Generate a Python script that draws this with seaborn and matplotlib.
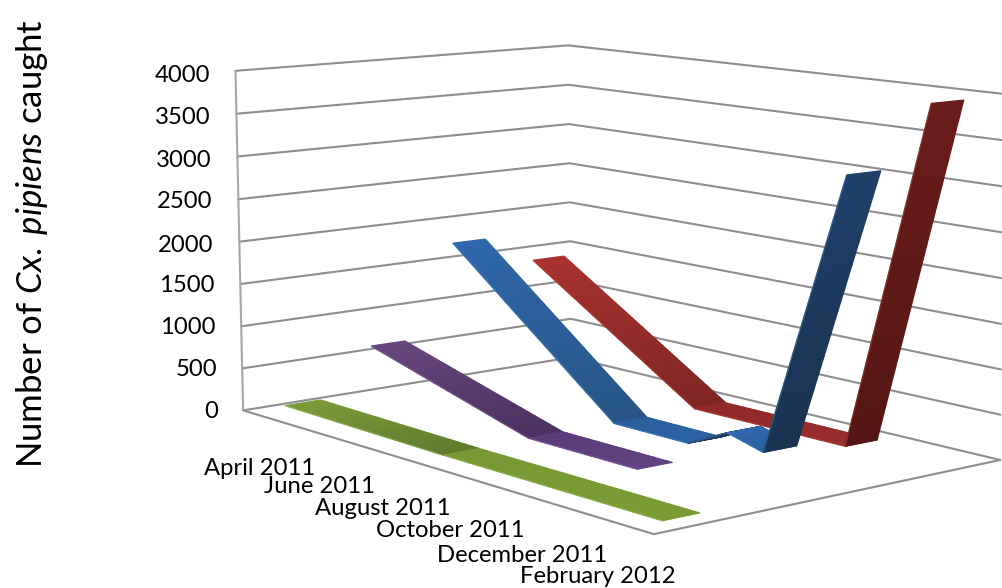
import numpy as np
import matplotlib
matplotlib.use("Agg")
import matplotlib.pyplot as plt
from mpl_toolkits.mplot3d.art3d import Line3DCollection, Poly3DCollection
import seaborn as sns

# Catches per trap site, sampled at irregular dates (months since April 2011)
green_months = [0.0, 4.6, 10.05]
green_counts = [60, 25, 14]
purple_months = [0.0, 4.5, 7.3]
purple_counts = [615, 22, 12]
blue_months = [0.0, 4.52, 6.43, 7.4, 8.26, 10.17]
blue_counts = [1732, 17, 12, 243, 128, 3284]
red_months = [0.0, 4.5, 8.25, 10.18]
red_counts = [1390, 15, 12, 3940]

date_labels = ["April 2011", "June 2011", "August 2011", "October 2011", "December 2011", "February 2012"]
count_ticks = [0, 500, 1000, 1500, 2000, 2500, 3000, 3500, 4000]

W, H = 1002, 588
sns.set_theme(style="white", font="Lato")
plt.rcParams.update({"mathtext.fontset": "custom", "mathtext.rm": "Lato", "mathtext.it": "Lato:italic"})

fig = plt.figure(figsize=(W / 100, H / 100), dpi=100, facecolor="white")
ax = fig.add_axes([0, 0, 1, 1], projection="3d")
ax.apply_aspect = lambda position=None: None
ax.set_position([0, 0, 1, 1])
ax.set_axis_off()
ax.computed_zorder = False

# Camera: a projective map from the chart box to the canvas, fitted to its corners.
MONTH_MIN, MONTH_MAX = -0.5, 10.5
COUNT_MAX = 4000
box_to_canvas = [
    ((0, 0, 0), (243, 410)), ((0, 0, 1), (235, 71)), ((0, 0, 0.5), (239, 242)),
    ((0, 1, 0), (570, 357)), ((0, 1, 1), (570, 45)), ((0, 1, 0.5), (570, 203)),
    ((1, 1, 0), (1001, 460)), ((1, 1, 1), (1001, 93)), ((1, 1, 0.5), (1001, 279)),
    ((1, 0, 0), (655, 534)),
]
to_view = ax.transData.inverted()
rows = []
for (bx, by, bz), (px, py) in box_to_canvas:
    u, v = to_view.transform((px, H - py))
    rows.append([bx, by, bz, 1, 0, 0, 0, 0, -u * bx, -u * by, -u * bz, -u])
    rows.append([0, 0, 0, 0, bx, by, bz, 1, -v * bx, -v * by, -v * bz, -v])
cam = np.linalg.svd(np.array(rows, float))[2][-1].reshape(3, 4)
span = MONTH_MAX - MONTH_MIN
data_to_box = np.array([[1 / span, 0, 0, -MONTH_MIN / span], [0, 1, 0, 0],
                        [0, 0, 1 / COUNT_MAX, 0], [0, 0, 0, 1]])
cam = cam @ data_to_box
if (cam[2] @ [5, 0.5, 2000, 1]) < 0:
    cam = -cam
proj = np.vstack([cam[0], cam[1], [0, 1, 0, 0], cam[2]])
ax.get_proj = lambda: proj

# Walls and floor
grid_segments = []
for t in count_ticks:
    grid_segments.append([(MONTH_MIN, 0, t), (MONTH_MIN, 1, t), (MONTH_MAX, 1, t)])
grid_segments.append([(MONTH_MIN, 0, 0), (MONTH_MAX, 0, 0), (MONTH_MAX, 1, 0)])
ax.add_collection3d(Line3DCollection(grid_segments, colors="#8e8e8e", linewidths=1.5,
                                     capstyle="round", joinstyle="round", zorder=1), autolim=False)
ax.add_collection3d(Line3DCollection([[(MONTH_MIN, 0, 0), (MONTH_MIN, 0, COUNT_MAX)]], colors="#a6a6a6",
                                     linewidths=1.5, zorder=1), autolim=False)

RIBBON = 0.10


def ribbon(months, counts, band, shades, edge, z):
    """One series as a flat strip in depth, each span shaded start to end."""
    y0 = 0.075 + 0.25 * band
    y1 = y0 + RIBBON
    for i, (c0, c1) in enumerate(shades):
        steps = np.linspace(0, 1, 25)
        ms = months[i] + steps * (months[i + 1] - months[i])
        cs = counts[i] + steps * (counts[i + 1] - counts[i])
        quads, fills = [], []
        rgb0, rgb1 = np.array(matplotlib.colors.to_rgb(c0)), np.array(matplotlib.colors.to_rgb(c1))
        for j in range(len(steps) - 1):
            quads.append([(ms[j], y0, cs[j]), (ms[j], y1, cs[j]),
                          (ms[j + 1], y1, cs[j + 1]), (ms[j + 1], y0, cs[j + 1])])
            fills.append(rgb0 + (rgb1 - rgb0) * (j + 0.5) / (len(steps) - 1))
        ax.add_collection3d(Poly3DCollection(quads, facecolors=fills, edgecolors=fills,
                                             linewidths=0.9, zorder=z + i), autolim=False)
        front = [[(ms[0], y0, cs[0]), (ms[-1], y0, cs[-1])]]
        ax.add_collection3d(Line3DCollection(front, colors=edge, linewidths=0.8, alpha=0.5,
                                             zorder=z + i + 0.5), autolim=False)


red = sns.color_palette(["#a8322e", "#7e2623", "#8f2a27", "#9a2d2b", "#541614", "#6a1e1b"])
blue = sns.color_palette(["#2f68ab", "#275585", "#2a5f9e", "#2c64a6", "#1e3d5f", "#1e3d5f",
                          "#3069ae", "#2a5f9e", "#1a3350", "#1e406a"])
purple = sns.color_palette(["#68467f", "#4a3060", "#5a3c78", "#634285"])
green = sns.color_palette(["#7b9c38", "#5e7a2e", "#779a36", "#7a9c34"])


def spans(colours):
    return list(zip(colours[::2], colours[1::2]))


ribbon(red_months, red_counts, 3, spans(red), "#b84a45", 10)
ribbon(blue_months, blue_counts, 2, spans(blue), "#4a86c8", 20)
ribbon(purple_months, purple_counts, 1, spans(purple), "#8a6ba8", 30)
ribbon(green_months, green_counts, 0, spans(green), "#a5c25c", 40)

ax.set_xlim(MONTH_MIN, MONTH_MAX)
ax.set_ylim(0, 1)
ax.set_zlim(0, COUNT_MAX)

# Axis labels
tick_right = [218, 217, 215.5, 214.5, 213, 212, 211.5, 211, 210]
tick_y = [412, 370, 328, 286, 245, 202, 160, 117, 75]
for t, px, py in zip(count_ticks, tick_right, tick_y):
    fig.text(px / W, 1 - py / H, str(t), ha="right", va="center", fontsize=17.2, color="black")

date_x = [260, 319.5, 383, 450, 522, 598]
date_y = [468.5, 486.5, 508.5, 530.5, 555.5, 576.5]
for label, px, py in zip(date_labels, date_x, date_y):
    fig.text(px / W, 1 - py / H, label, ha="center", va="center", fontsize=17.2, color="black")

fig.text(32 / W, 1 - 243 / H, r"Number of $\mathit{Cx.\;pipiens}$ caught", rotation=90,
         ha="center", va="center", fontsize=25, color="black")

fig.savefig("out.png", dpi=100, facecolor="white")
